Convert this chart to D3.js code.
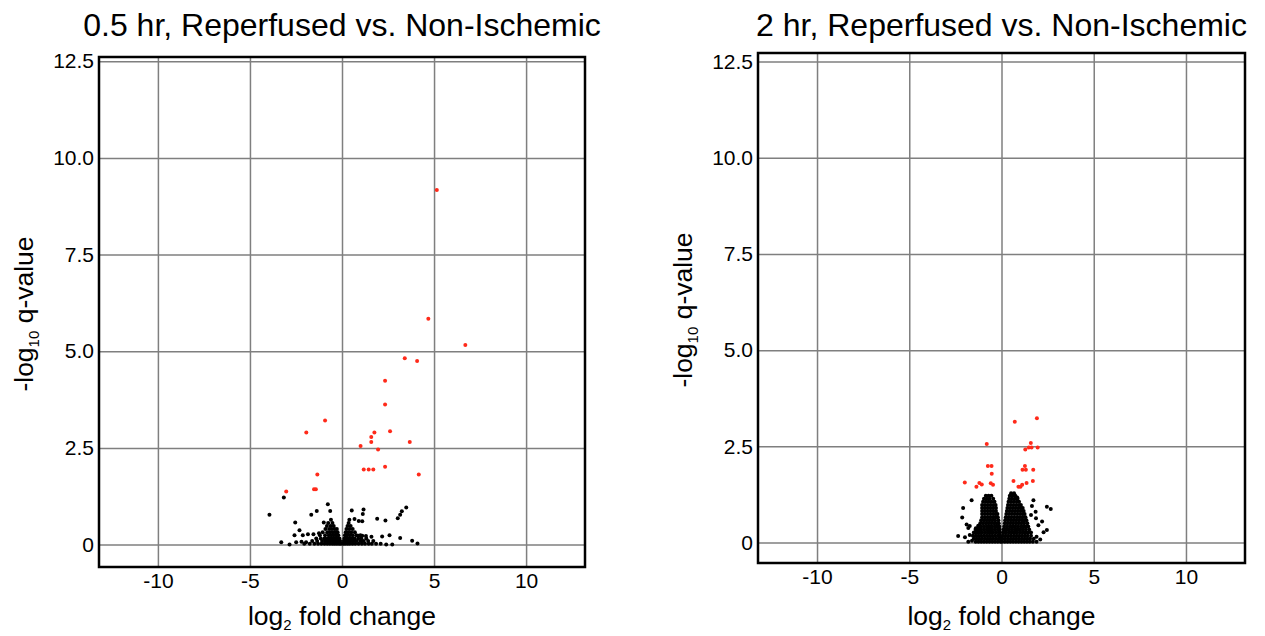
<!DOCTYPE html>
<html>
<head>
<meta charset="utf-8">
<script src="https://cdn.jsdelivr.net/npm/d3@7"></script>
<style>
  body { margin: 0; background: #fff; }
  svg { font-family: 'Liberation Sans', Arial, sans-serif; }
</style>
</head>
<body>
<svg id="chart" width="1265" height="636"></svg>
<script>
/* Axis ticks shared by both panels */
const xTicks = [-10, -5, 0, 5, 10];
const xTickLabels = ['-10', '-5', '0', '5', '10'];
const yTicks = [0, 2.5, 5, 7.5, 10, 12.5];
const yTickLabels = ['0', '2.5', '5.0', '7.5', '10.0', '12.5'];

const panelTitles = ['0.5 hr, Reperfused vs. Non-Ischemic', '2 hr, Reperfused vs. Non-Ischemic'];

/* 0.5 hr: significant proteins [log2 FC, -log10 q] */
const sig05 = [
  [5.15, 9.17], [4.69, 5.84], [6.70, 5.16], [3.41, 4.82], [4.08, 4.75], [2.34, 4.24],
  [2.34, 3.62], [-0.92, 3.21], [-1.94, 2.90], [1.76, 2.90], [2.61, 2.93], [3.68, 2.65],
  [1.59, 2.78], [1.59, 2.65], [1.01, 2.55], [1.96, 2.46], [1.18, 1.94], [1.45, 1.94],
  [1.70, 1.94], [2.34, 2.01], [4.17, 1.81], [-1.34, 1.81], [-1.52, 1.43], [-1.42, 1.43],
  [-3.03, 1.37]
];

/* 0.5 hr: scattered non-significant proteins */
const ns05 = [
  [-3.16, 1.22], [-3.94, 0.77], [-0.77, 1.04], [-1.37, 0.87], [-1.67, 0.77], [-0.64, 0.87],
  [-2.54, 0.57], [-0.99, 0.57], [-2.31, 0.37], [-2.58, 0.24], [-2.13, 0.24], [-1.85, 0.27],
  [-1.55, 0.27], [-1.25, 0.29], [-3.30, 0.06], [-2.85, 0.0], [-2.49, 0.06], [-2.2, 0.07],
  [-1.95, 0.06], [0.53, 0.88], [1.17, 0.91], [1.13, 0.79], [0.68, 0.66], [0.91, 0.61],
  [1.10, 0.60], [1.91, 0.67], [2.36, 0.62], [3.49, 0.96], [3.25, 0.86], [3.16, 0.77],
  [3.03, 0.68], [2.58, 0.24], [3.16, 0.17], [3.81, 0.10], [2.18, 0.21], [0.9, 0.23],
  [1.1, 0.23], [1.3, 0.22], [1.6, 0.2], [2.40, 0.0], [2.73, 0.0], [4.1, 0.03]
];

/* 0.5 hr: dense core, rows as [-log10 q, log2 FC ...] */
const core05 = [
  [0.02, -2.05, -1.75, -1.5, -1.3, -1.12, -0.95, -0.8, -0.66, -0.52, -0.4, -0.28, -0.16, -0.06,
    0.06, 0.17, 0.3, 0.42, 0.57, 0.72, 0.9, 1.08, 1.25, 1.45, 1.62, 1.85, 2.1],
  [0.09, -1.62, -1.35, -1.08, -0.9, -0.74, -0.6, -0.45, -0.33, -0.2, -0.1,
    0.1, 0.2, 0.33, 0.47, 0.62, 0.8, 1.0, 1.18, 1.42, 1.7],
  [0.16, -1.4, -1.15, -0.95, -0.78, -0.62, -0.48, -0.36, -0.24, -0.14,
    0.13, 0.24, 0.38, 0.52, 0.68, 0.88, 1.05, 1.32],
  [0.24, -1.2, -0.92, -0.72, -0.58, -0.45, -0.32, -0.2, 0.16, 0.28, 0.42, 0.58, 0.78, 1.0],
  [0.32, -1.05, -0.8, -0.64, -0.5, -0.36, -0.24, 0.2, 0.34, 0.5, 0.7],
  [0.4, -0.9, -0.7, -0.55, -0.4, -0.28, 0.24, 0.4, 0.58],
  [0.48, -0.82, -0.62, -0.45, 0.3, 0.47],
  [0.56, -0.75, -0.52, 0.36],
  [0.64, -0.6, 0.4]
];

/* 2 hr: significant proteins */
const sig2 = [
  [0.72, 3.14], [1.92, 3.23], [-0.80, 2.56], [1.59, 2.59], [1.48, 2.47], [1.63, 2.47],
  [1.29, 2.42], [1.96, 2.47], [-0.74, 1.99], [-0.54, 1.99], [-0.53, 1.79], [1.27, 1.99],
  [1.14, 1.89], [1.32, 1.89], [1.72, 1.89], [-1.99, 1.56], [-1.20, 1.55], [-1.07, 1.51],
  [-1.36, 1.45], [-0.58, 1.54], [-0.46, 1.50], [0.65, 1.60], [0.92, 1.45], [1.03, 1.45],
  [1.12, 1.50], [1.36, 1.55], [1.70, 1.60]
];

/* 2 hr: scattered non-significant proteins */
const ns2 = [
  [-1.62, 1.10], [-2.08, 0.90], [-2.13, 0.65], [-1.89, 0.47], [-1.72, 0.43], [-1.8, 0.38],
  [-2.35, 0.17], [-1.98, 0.14], [-1.72, 0.2], [-1.39, 0.37], [-1.26, 0.44], [-1.6, 0.05],
  [-1.8, 0.02], [1.73, 1.10], [1.65, 0.95], [1.85, 0.8], [2.46, 0.93], [2.67, 0.87],
  [1.87, 0.63], [2.0, 0.45], [2.2, 0.55], [2.46, 0.33], [2.28, 0.27], [1.9, 0.15],
  [2.1, 0.08], [0.85, 1.17], [1.6, 0.72]
];

/* 2 hr: dense core, rows as [-log10 q, log2 FC ...] */
const core2 = [
  [0.02, -1.4, -1.25, -1.1, -0.95, -0.8, -0.65, -0.5, -0.35, -0.2, -0.05,
    0.03, 0.18, 0.33, 0.48, 0.63, 0.78, 0.93, 1.08, 1.23, 1.38, 1.53, 1.7, 1.9],
  [0.1, -1.5, -1.35, -1.2, -1.05, -0.9, -0.75, -0.6, -0.45, -0.3, -0.15, -0.05,
    0.05, 0.2, 0.35, 0.5, 0.65, 0.8, 0.95, 1.1, 1.25, 1.4, 1.55, 1.75],
  [0.18, -1.55, -1.4, -1.25, -1.1, -0.95, -0.8, -0.65, -0.5, -0.35, -0.2, -0.07,
    0.07, 0.22, 0.37, 0.52, 0.67, 0.82, 0.97, 1.12, 1.27, 1.42, 1.6],
  [0.26, -1.5, -1.35, -1.2, -1.05, -0.9, -0.75, -0.6, -0.45, -0.3, -0.15, -0.08,
    0.1, 0.25, 0.4, 0.55, 0.7, 0.85, 1.0, 1.15, 1.3, 1.45, 1.6],
  [0.34, -1.4, -1.25, -1.1, -0.95, -0.8, -0.65, -0.5, -0.35, -0.2, -0.1,
    0.12, 0.27, 0.42, 0.57, 0.72, 0.87, 1.02, 1.17, 1.32, 1.5],
  [0.42, -1.25, -1.1, -0.95, -0.8, -0.65, -0.5, -0.35, -0.22, -0.12,
    0.15, 0.3, 0.45, 0.6, 0.75, 0.9, 1.05, 1.2, 1.35, 1.45],
  [0.5, -1.15, -1.0, -0.85, -0.7, -0.55, -0.4, -0.27, -0.15,
    0.18, 0.33, 0.48, 0.63, 0.78, 0.93, 1.08, 1.23, 1.4],
  [0.58, -1.1, -0.95, -0.8, -0.65, -0.5, -0.35, -0.17,
    0.2, 0.35, 0.5, 0.65, 0.8, 0.95, 1.1, 1.22, 1.35],
  [0.66, -1.05, -0.9, -0.75, -0.6, -0.45, -0.32, -0.2,
    0.23, 0.38, 0.53, 0.68, 0.83, 0.98, 1.13, 1.3],
  [0.74, -1.05, -0.9, -0.75, -0.6, -0.45, -0.33, -0.22,
    0.26, 0.41, 0.56, 0.71, 0.86, 1.01, 1.15, 1.25],
  [0.82, -1.05, -0.9, -0.75, -0.6, -0.45, -0.3,
    0.29, 0.44, 0.59, 0.74, 0.89, 1.04, 1.2],
  [0.9, -1.05, -0.9, -0.75, -0.6, -0.45, -0.3,
    0.32, 0.47, 0.62, 0.77, 0.92, 1.05, 1.15],
  [0.98, -1.05, -0.9, -0.75, -0.6, -0.45, -0.32,
    0.35, 0.5, 0.65, 0.8, 0.95, 1.05],
  [1.06, -1.0, -0.85, -0.7, -0.55, -0.38, 0.38, 0.53, 0.68, 0.83, 0.95],
  [1.14, -0.95, -0.8, -0.65, -0.45, 0.42, 0.57, 0.72, 0.87],
  [1.22, -0.85, -0.7, -0.55, 0.45, 0.6, 0.75],
  [1.28, 0.52, 0.68]
];

const FONT_TICK = 21;
const FONT_LABEL = 26.5;
const FONT_TITLE = 32;
const GRID_COLOR = '#7f7f7f';
const SIG_COLOR = '#ff2a1a';

const panels = [
  { title: panelTitles[0], sig: sig05, ns: ns05, core: core05,
    box: { left: 99, right: 585, top: 57, bottom: 567 }, yDomain: [-0.58, 12.61] },
  { title: panelTitles[1], sig: sig2, ns: ns2, core: core2,
    box: { left: 758, right: 1245, top: 53, bottom: 563 }, yDomain: [-0.53, 12.72] }
];

const svg = d3.select('#chart');
panels.forEach(p => drawPanel(svg, p));

function toPoints (pairs) {
  return pairs.map(([x, y]) => ({ x, y }));
}

function rowsToPoints (rows) {
  return rows.flatMap(([y, ...xs]) => xs.map(x => ({ x, y })));
}

function drawPanel (svg, p) {
  const { box } = p;
  const w = box.right - box.left;
  const h = box.bottom - box.top;
  const cx = (box.left + box.right) / 2;

  const x = d3.scaleLinear().domain([-13.2, 13.2]).range([box.left, box.right]);
  const y = d3.scaleLinear().domain(p.yDomain).range([box.bottom, box.top]);

  // gridlines + tick labels via axes
  const xAxis = svg.append('g')
    .attr('transform', `translate(0,${box.bottom})`)
    .call(d3.axisBottom(x).tickValues(xTicks).tickSize(-h).tickPadding(6)
      .tickFormat((d, i) => xTickLabels[i]));
  const yAxis = svg.append('g')
    .attr('transform', `translate(${box.left},0)`)
    .call(d3.axisLeft(y).tickValues(yTicks).tickSize(-w).tickPadding(5)
      .tickFormat((d, i) => yTickLabels[i]));

  [xAxis, yAxis].forEach(a => {
    a.select('.domain').remove();
    a.selectAll('line').attr('stroke', GRID_COLOR).attr('stroke-width', 1.5);
    a.selectAll('text')
      .attr('fill', '#000')
      .style('font-size', `${FONT_TICK}px`)
      .style('font-family', "'Liberation Sans', Arial, sans-serif");
  });

  // points: non-significant first, significant on top
  const dots = svg.append('g');
  const black = toPoints(p.ns).concat(rowsToPoints(p.core));
  dots.selectAll('.ns')
    .data(black)
    .enter()
    .append('circle')
    .attr('class', 'ns')
    .attr('cx', d => x(d.x))
    .attr('cy', d => y(d.y))
    .attr('r', 2)
    .attr('fill', '#000');

  dots.selectAll('.sig')
    .data(toPoints(p.sig))
    .enter()
    .append('circle')
    .attr('class', 'sig')
    .attr('cx', d => x(d.x))
    .attr('cy', d => y(d.y))
    .attr('r', 2)
    .attr('fill', SIG_COLOR);

  // frame
  svg.append('rect')
    .attr('x', box.left)
    .attr('y', box.top)
    .attr('width', w)
    .attr('height', h)
    .attr('fill', 'none')
    .attr('stroke', '#000')
    .attr('stroke-width', 2.5);

  // title
  svg.append('text')
    .attr('x', cx)
    .attr('y', 36)
    .attr('text-anchor', 'middle')
    .style('font-size', `${FONT_TITLE}px`)
    .text(p.title);

  // x label: log2 fold change
  const xl = svg.append('text')
    .attr('x', cx)
    .attr('y', 625)
    .attr('text-anchor', 'middle')
    .style('font-size', `${FONT_LABEL}px`);
  xl.append('tspan').text('log');
  xl.append('tspan').attr('dy', 5).style('font-size', '15px').text('2');
  xl.append('tspan').attr('dy', -5).text(' fold change');

  // y label: -log10 q-value
  const yl = svg.append('text')
    .attr('transform', `translate(${box.left - 66},${(box.top + box.bottom) / 2 + 2}) rotate(-90)`)
    .attr('text-anchor', 'middle')
    .style('font-size', `${FONT_LABEL}px`);
  yl.append('tspan').text('-log');
  yl.append('tspan').attr('dy', 6).style('font-size', '15px').text('10');
  yl.append('tspan').attr('dy', -6).text(' q-value');
}
</script>
</body>
</html>
